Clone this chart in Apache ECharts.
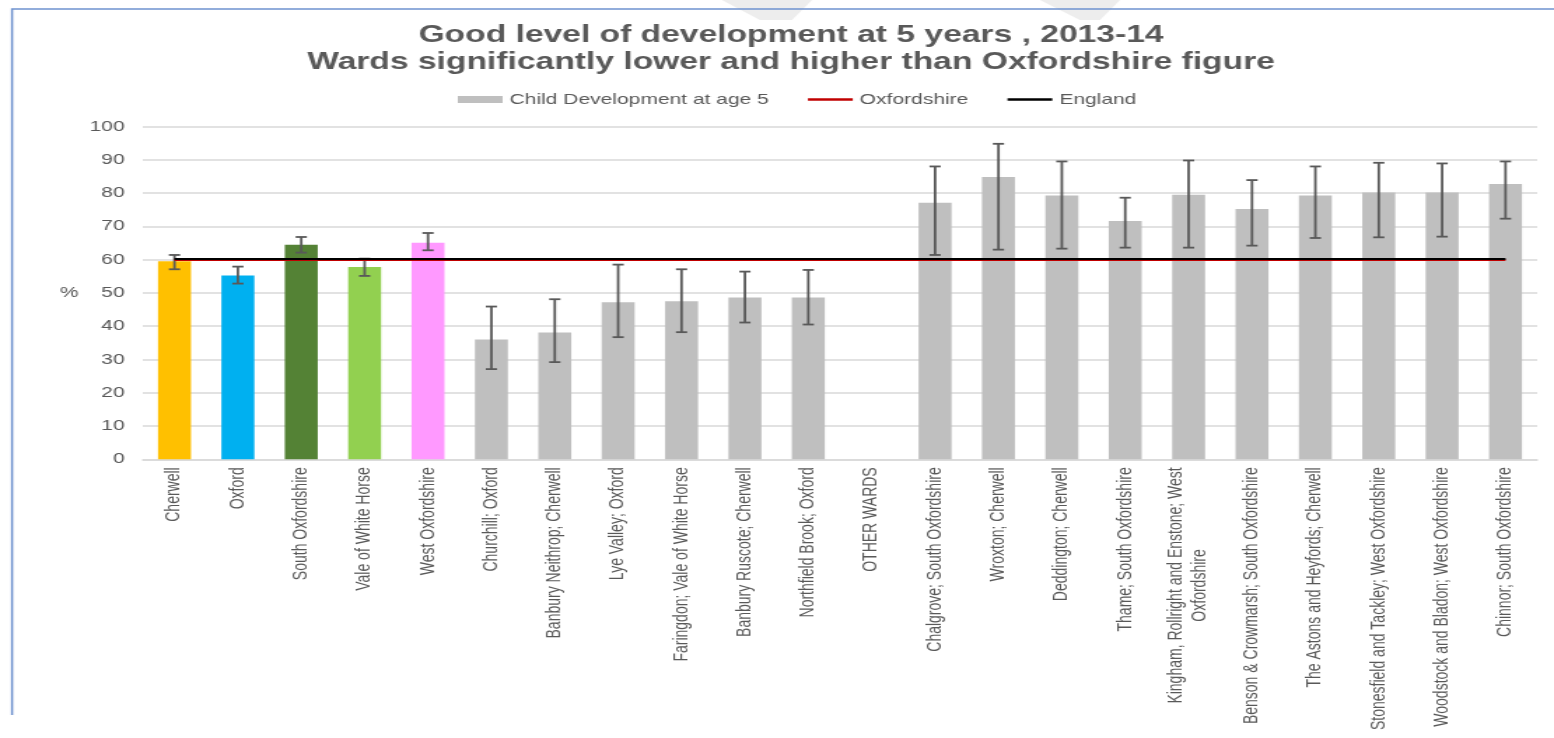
<!DOCTYPE html>
<html>
<head>
<meta charset="utf-8">
<title>Good level of development at 5 years, 2013-14</title>
<script src="https://cdn.jsdelivr.net/npm/echarts@6/dist/echarts.min.js"></script>
<style>
  html, body { margin: 0; padding: 0; background: #ffffff; overflow: hidden; }
  /* the chart is laid out on a narrower canvas and widened to the page */
  #chart { width: 1110px; height: 738px; transform: scaleX(1.4); transform-origin: 0 0; }
</style>
</head>
<body>
<div id="chart"></div>
<script>
// Districts first, then wards significantly lower, a spacer, then wards significantly higher
const categories = [
  'Cherwell', 'Oxford', 'South Oxfordshire', 'Vale of White Horse', 'West Oxfordshire',
  'Churchill; Oxford', 'Banbury Neithrop; Cherwell', 'Lye Valley; Oxford',
  'Faringdon; Vale of White Horse', 'Banbury Ruscote; Cherwell', 'Northfield Brook; Oxford',
  'OTHER WARDS',
  'Chalgrove; South Oxfordshire', 'Wroxton; Cherwell', 'Deddington; Cherwell',
  'Thame; South Oxfordshire', 'Kingham, Rollright and Enstone; West\nOxfordshire',
  'Benson & Crowmarsh; South Oxfordshire', 'The Astons and Heyfords; Cherwell',
  'Stonesfield and Tackley; West Oxfordshire', 'Woodstock and Bladon; West Oxfordshire',
  'Chinnor; South Oxfordshire'
];

// % of children reaching a good level of development
const development = [
  59.5, 55.2, 64.5, 57.8, 65.1,
  36.0, 38.1, 47.2, 47.5, 48.6, 48.6,
  null,
  77.1, 84.8, 79.3, 71.6, 79.5, 75.2, 79.3, 80.2, 80.2, 82.7
];

// 95% confidence interval, lower and upper limits
const ciLower = [
  57.1, 52.8, 62.1, 55.1, 62.8,
  27.1, 29.2, 36.7, 38.2, 41.1, 40.5,
  null,
  61.4, 63.0, 63.3, 63.6, 63.6, 64.2, 66.5, 66.7, 66.9, 72.3
];
const ciUpper = [
  61.4, 57.9, 66.8, 60.3, 68.0,
  45.9, 48.1, 58.5, 57.1, 56.4, 56.9,
  null,
  88.0, 94.8, 89.5, 78.6, 89.8, 83.9, 88.0, 89.1, 88.9, 89.5
];

// Comparator figures
const oxfordshireValue = 60.0;
const englandValue = 60.4;

// y axis ticks
const yTicks = { min: 0, max: 100, interval: 10 };

// District bar colours (wards use the series grey)
const districtColours = ['#FFC000', '#00B0F0', '#548235', '#92D050', '#FF99FF'];

const TEXT = '#595959';
const FONT = '"Liberation Sans", Arial, sans-serif';
const LINE_ICON = 'path://M0,0H32V2.6H0Z';

// width of the longest line of a wrapped label, so a shorter line can sit centred under it
function textWidth(str, size) {
  const ctx = document.createElement('canvas').getContext('2d');
  ctx.font = size + 'px "Liberation Sans"';
  return ctx.measureText(str).width;
}
const wrapWidth = Math.max.apply(null, categories
  .filter(c => c.indexOf('\n') >= 0)
  .map(c => Math.max.apply(null, c.split('\n').map(l => textWidth(l, 14)))));

const barData = development.map((v, i) => (
  i < districtColours.length ? { value: v, itemStyle: { color: districtColours[i] } } : v
));
const errorData = development.map((v, i) => [i, ciLower[i], ciUpper[i]])
  .filter(d => d[1] != null && d[2] != null);

const chart = echarts.init(document.getElementById('chart'), null, { renderer: 'canvas' });

chart.setOption({
  animation: false,
  backgroundColor: '#ffffff',
  textStyle: { fontFamily: FONT },
  title: {
    text: 'Good level of development at 5 years , 2013-14\nWards significantly lower and higher than Oxfordshire figure',
    left: 565,
    top: 22,
    padding: 0,
    textAlign: 'center',
    textStyle: { fontFamily: FONT, fontWeight: 'bold', fontSize: 24, lineHeight: 27, color: TEXT }
  },
  legend: {
    left: 322,
    top: 87,
    itemWidth: 32,
    itemHeight: 7,
    itemGap: 28,
    selectedMode: false,
    textStyle: { fontFamily: FONT, fontSize: 15, color: TEXT },
    data: [
      { name: 'Child Development at age 5', icon: 'rect', itemStyle: { color: '#BFBFBF' } },
      { name: 'Oxfordshire', icon: LINE_ICON, itemStyle: { color: '#C00000' } },
      { name: 'England', icon: LINE_ICON, itemStyle: { color: '#000000' } }
    ]
  },
  grid: { left: 102, right: 12, top: 126.5, bottom: 278.7, containLabel: false },
  xAxis: {
    type: 'category',
    data: categories,
    axisTick: { show: false },
    axisLine: { lineStyle: { color: '#D9D9D9', width: 1.5 } },
    axisLabel: {
      rotate: 90,
      interval: 0,
      margin: 8,
      fontFamily: FONT,
      fontSize: 14,
      color: TEXT,
      formatter: function (v) {
        if (v.indexOf('\n') < 0) return v;
        return v.split('\n').map(l => '{wrap|' + l + '}').join('\n');
      },
      rich: {
        wrap: { width: wrapWidth, align: 'center', fontFamily: FONT, fontSize: 14, color: TEXT, lineHeight: 17 }
      }
    }
  },
  yAxis: {
    type: 'value',
    min: yTicks.min,
    max: yTicks.max,
    interval: yTicks.interval,
    name: '%',
    nameLocation: 'middle',
    nameRotate: 0,
    nameGap: 46,
    nameTextStyle: { fontFamily: FONT, fontSize: 15, color: TEXT },
    axisLine: { show: false },
    axisTick: { show: false },
    axisLabel: { fontFamily: FONT, fontSize: 15, color: TEXT, margin: 13 },
    splitLine: { lineStyle: { color: '#D9D9D9', width: 1.5 } }
  },
  series: [
    {
      name: 'Child Development at age 5',
      type: 'bar',
      data: barData,
      barWidth: '52%',
      itemStyle: { color: '#BFBFBF' },
      z: 2
    },
    {
      name: 'Confidence interval',
      type: 'custom',
      data: errorData,
      encode: { x: 0, y: [1, 2] },
      z: 3,
      silent: true,
      renderItem: function (params, api) {
        const x = api.value(0);
        const lo = api.coord([x, api.value(1)]);
        const hi = api.coord([x, api.value(2)]);
        const half = 4;
        const style = { stroke: '#595959', lineWidth: 1.8 };
        return {
          type: 'group',
          children: [
            { type: 'line', shape: { x1: hi[0], y1: hi[1], x2: lo[0], y2: lo[1] }, style: style },
            { type: 'line', shape: { x1: hi[0] - half, y1: hi[1], x2: hi[0] + half, y2: hi[1] }, style: style },
            { type: 'line', shape: { x1: lo[0] - half, y1: lo[1], x2: lo[0] + half, y2: lo[1] }, style: style }
          ]
        };
      }
    },
    {
      name: 'Oxfordshire',
      type: 'line',
      data: [],
      symbol: 'none',
      lineStyle: { color: '#C00000', width: 2.2 },
      itemStyle: { color: '#C00000' },
      z: 5,
      markLine: {
        silent: true,
        symbol: 'none',
        label: { show: false },
        lineStyle: { color: '#C00000', width: 2, type: 'solid' },
        data: [[{ coord: [0, oxfordshireValue] }, { coord: [categories.length - 1, oxfordshireValue] }]]
      }
    },
    {
      name: 'England',
      type: 'line',
      data: [],
      symbol: 'none',
      lineStyle: { color: '#000000', width: 2.2 },
      itemStyle: { color: '#000000' },
      z: 6,
      markLine: {
        silent: true,
        symbol: 'none',
        label: { show: false },
        lineStyle: { color: '#000000', width: 2, type: 'solid' },
        data: [[{ coord: [0, englandValue] }, { coord: [categories.length - 1, englandValue] }]]
      }
    }
  ],
  graphic: [
    // faint watermark strokes along the top edge
    { type: 'polygon', z: -10, silent: true,
      shape: { points: [[515.7, 0], [580, 0], [565.7, 20], [542.9, 20]] },
      style: { fill: '#EDEDED' } },
    { type: 'polygon', z: -10, silent: true,
      shape: { points: [[742.9, 0], [800, 0], [785.7, 20], [771.4, 20]] },
      style: { fill: '#EDEDED' } },
    // page frame, top and left edges
    { type: 'polyline', z: 10, silent: true,
      shape: { points: [[8.6, 715], [8.6, 9], [1110, 9]] },
      style: { stroke: '#6F93CF', lineWidth: 1.5, fill: null } }
  ]
});
</script>
</body>
</html>
